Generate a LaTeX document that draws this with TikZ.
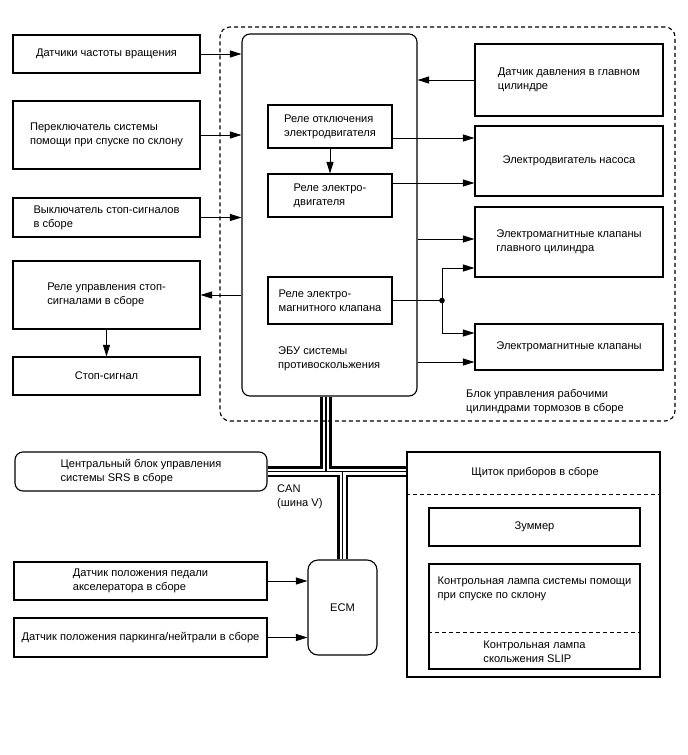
\documentclass[tikz,border=0pt]{standalone}
\usepackage{fontspec}
\setmainfont{Liberation Sans}
\usetikzlibrary{arrows.meta,backgrounds}

\begin{document}
\begin{tikzpicture}[
        x=1pt, y=-1pt,
        font=\fontsize{11.1}{14}\selectfont,
        blok/.style={draw, line width=1.1pt, align=left, inner sep=0pt},
        modul/.style={blok, rounded corners=8pt},
        nadpis/.style={anchor=west, align=left, inner sep=0pt},
        razdel/.style={dash pattern=on 4pt off 3pt, line width=1.1pt},
        strelka/.style={-{Triangle[length=11.5pt, width=7pt]}, line width=0.9pt}
    ]
        \useasboundingbox (0,0) rectangle (688,755);

        \node[draw, razdel, rounded corners=10pt, minimum width=455pt, minimum height=394pt] (brake-unit) at (447.5,224) {};
        \node[nadpis] (brake-unit-label) at (466,402) {Блок управления рабочими\\цилиндрами тормозов в сборе};

        \node[blok, minimum width=187pt, minimum height=38pt] (speed-sensor) at (106.5,54) {Датчики частоты вращения};
        \node[blok, minimum width=187pt, minimum height=68pt] (hill-switch) at (106.5,135) {Переключатель системы\\помощи при спуске по склону};
        \node[blok, minimum width=187pt, minimum height=39pt] (stop-switch) at (106.5,217.5) {Выключатель стоп-сигналов\\в сборе};
        \node[blok, minimum width=187pt, minimum height=68pt] (stop-relay) at (106.5,295) {Реле управления стоп-\\сигналами в сборе};
        \node[blok, minimum width=187pt, minimum height=38pt] (stop-lamp) at (106.5,376) {Стоп-сигнал};

        \node[modul, minimum width=175pt, minimum height=362pt] (ecu) at (329.5,215) {};
        \node[blok, minimum width=124pt, minimum height=43pt] (cutoff-relay) at (330,126.5) {Реле отключения\\электродвигателя};
        \node[blok, minimum width=124pt, minimum height=43pt] (motor-relay) at (330,195.5) {Реле электро-\\двигателя};
        \node[blok, minimum width=124pt, minimum height=47pt] (valve-relay) at (330,300.5) {Реле электро-\\магнитного клапана};
        \node[nadpis] (ecu-label) at (278,359) {ЭБУ системы\\противоскольжения};

        \node[blok, minimum width=188pt, minimum height=72pt] (pressure-sensor) at (569,80) {Датчик давления в главном\\цилиндре};
        \node[blok, minimum width=188pt, minimum height=70pt] (pump-motor) at (569,161) {Электродвигатель насоса};
        \node[blok, minimum width=188pt, minimum height=70pt] (master-valves) at (569,242) {Электромагнитные клапаны\\главного цилиндра};
        \node[blok, minimum width=188pt, minimum height=46pt] (valves) at (569,347) {Электромагнитные клапаны};
        \coordinate (split) at (442,300.5);

        \node[modul, minimum width=252pt, minimum height=39pt] (srs-unit) at (141,471.5) {Центральный блок управления\\системы SRS в сборе};
        \node[nadpis] (can-label) at (277,497) {CAN\\(шина V)};
        \node[modul, rounded corners=10pt, minimum width=69pt, minimum height=95pt] (ecm) at (342.5,607.5) {ECM};
        \node[blok, minimum width=253pt, minimum height=38pt] (pedal-sensor) at (140.5,581) {Датчик положения педали\\акселератора в сборе};
        \node[blok, minimum width=253pt, minimum height=39pt] (park-sensor) at (140.5,637.5) {Датчик положения паркинга/нейтрали в сборе};

        \node[blok, minimum width=253pt, minimum height=225pt] (cluster) at (533.5,564.5) {};
        \node[nadpis, anchor=center] (cluster-label) at (535,473) {Щиток приборов в сборе};
        \node[blok, minimum width=211pt, minimum height=38pt] (buzzer) at (534.5,527) {Зуммер};
        \node[blok, minimum width=211pt, minimum height=105pt] (lamp) at (534.5,616.5) {};
        \node[nadpis, anchor=center] (hill-lamp) at (534.5,589) {Контрольная лампа системы помощи\\при спуске по склону};
        \node[nadpis, anchor=center] (slip-lamp) at (534.5,652) {Контрольная лампа\\скольжения SLIP};
        \draw[razdel] (cluster.north west) ++(0,43) -- ++(253,0);
        \draw[razdel] (lamp.north west) ++(0,69) -- ++(211,0);

        \draw[strelka] (speed-sensor.east) -- (speed-sensor.east -| ecu.west);
        \draw[strelka] (hill-switch.east) -- (hill-switch.east -| ecu.west);
        \draw[strelka] (stop-switch.east) -- (stop-switch.east -| ecu.west);
        \draw[strelka] (stop-relay.east -| ecu.west) -- (stop-relay.east);
        \draw[strelka] (stop-relay) -- (stop-lamp);
        \draw[strelka] (cutoff-relay) -- (motor-relay);

        \draw[strelka] (pressure-sensor.west) -- (pressure-sensor.west -| ecu.east);
        \draw[strelka] ([yshift=-11.5pt]cutoff-relay.east) -- ([yshift=-11.5pt]cutoff-relay.east -| pump-motor.west);
        \draw[strelka] ([yshift=12.5pt]motor-relay.east) -- ([yshift=12.5pt]motor-relay.east -| pump-motor.west);
        \draw[strelka] ([yshift=3pt]master-valves.west -| ecu.east) -- ([yshift=3pt]master-valves.west);
        \draw[strelka] ([yshift=-15pt]valves.west -| ecu.east) -- ([yshift=-15pt]valves.west);
        \draw[line width=0.9pt] (valve-relay.east) -- (split);
        \fill (split) circle (2.8pt);
        \draw[strelka] (split) |- ([yshift=-26pt]master-valves.west);
        \draw[strelka] (split) |- ([yshift=14pt]valves.west);

        \draw[strelka] (pedal-sensor.east) -- (pedal-sensor.east -| ecm.west);
        \draw[strelka] (park-sensor.east) -- (park-sensor.east -| ecm.west);

        \coordinate (can-top) at ([xshift=-3.5pt]ecu.south);
        \begin{scope}[on background layer]
            \foreach \w/\c in {11.5pt/black, 6pt/white, 1.6pt/black}
                \draw[line width=\w, draw=\c] (can-top) -- (can-top |- srs-unit.east)
                    (srs-unit.east) -- (srs-unit.east -| cluster.west)
                    (ecm.north |- srs-unit.east) -- (ecm.north);
        \end{scope}
    \end{tikzpicture}
\end{document}
